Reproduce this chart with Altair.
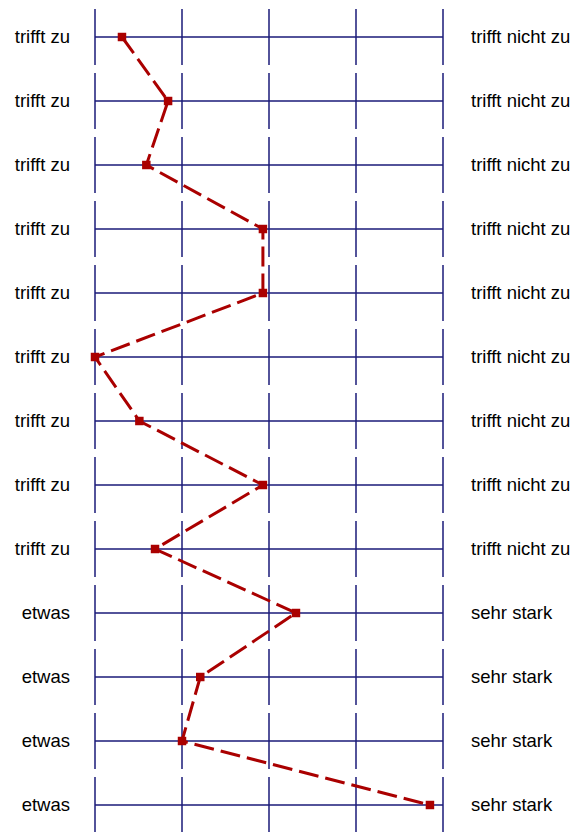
import altair as alt
import pandas as pd

# --- data ---
rows = list(range(13))
values = [1.31, 1.84, 1.59, 2.93, 2.93, 1.0, 1.51, 2.93, 1.69, 3.31, 2.21, 2.0, 4.85]
left_labels = ["trifft zu"] * 9 + ["etwas"] * 4
right_labels = ["trifft nicht zu"] * 9 + ["sehr stark"] * 4
ticks = [1, 2, 3, 4, 5]

W, H = 569, 824
X_DOMAIN = [0, W / 87]
Y_DOMAIN = [-29 / 64, (H - 29) / 64]
HALF = 28 / 64

GRID = "#1a1a78"
RED = "#aa0000"

xs = alt.Scale(domain=X_DOMAIN, nice=False, zero=False)
ys = alt.Scale(domain=Y_DOMAIN, nice=False, zero=False, reverse=True)

df = pd.DataFrame({"row": rows, "value": values, "left": left_labels, "right": right_labels})
seg = pd.DataFrame([{"row": r, "tick": t, "y1": r - HALF, "y2": r + HALF} for r in rows for t in ticks])
hl = pd.DataFrame({"row": rows, "x1": [ticks[0]] * len(rows), "x2": [ticks[-1]] * len(rows)})

vlines = alt.Chart(seg).mark_rule(color=GRID, strokeWidth=1.5).encode(
    x=alt.X("tick:Q", scale=xs, axis=None),
    y=alt.Y("y1:Q", scale=ys, axis=None),
    y2="y2:Q",
)
hlines = alt.Chart(hl).mark_rule(color=GRID, strokeWidth=1.5).encode(
    x=alt.X("x1:Q", scale=xs, axis=None),
    x2="x2:Q",
    y=alt.Y("row:Q", scale=ys, axis=None),
)
line = alt.Chart(df).mark_line(color=RED, strokeWidth=3, strokeDash=[20, 7]).encode(
    x=alt.X("value:Q", scale=xs, axis=None),
    y=alt.Y("row:Q", scale=ys, axis=None),
    order="row:Q",
)
pts = alt.Chart(df).mark_point(shape="square", filled=True, color=RED, size=72, opacity=1).encode(
    x=alt.X("value:Q", scale=xs, axis=None),
    y=alt.Y("row:Q", scale=ys, axis=None),
)
ltxt = alt.Chart(df).mark_text(align="right", baseline="middle", font="Liberation Sans", fontSize=18.5, color="#000000").encode(
    x=alt.value(62),
    y=alt.Y("row:Q", scale=ys, axis=None),
    text="left:N",
)
rtxt = alt.Chart(df).mark_text(align="left", baseline="middle", font="Liberation Sans", fontSize=18.5, color="#000000").encode(
    x=alt.value(463),
    y=alt.Y("row:Q", scale=ys, axis=None),
    text="right:N",
)

chart = alt.layer(vlines, hlines, line, pts, ltxt, rtxt).properties(
    width=W, height=H, padding=0
).configure_view(stroke=None)

chart.save("out.html", embed_options={"renderer": "svg", "actions": False})
